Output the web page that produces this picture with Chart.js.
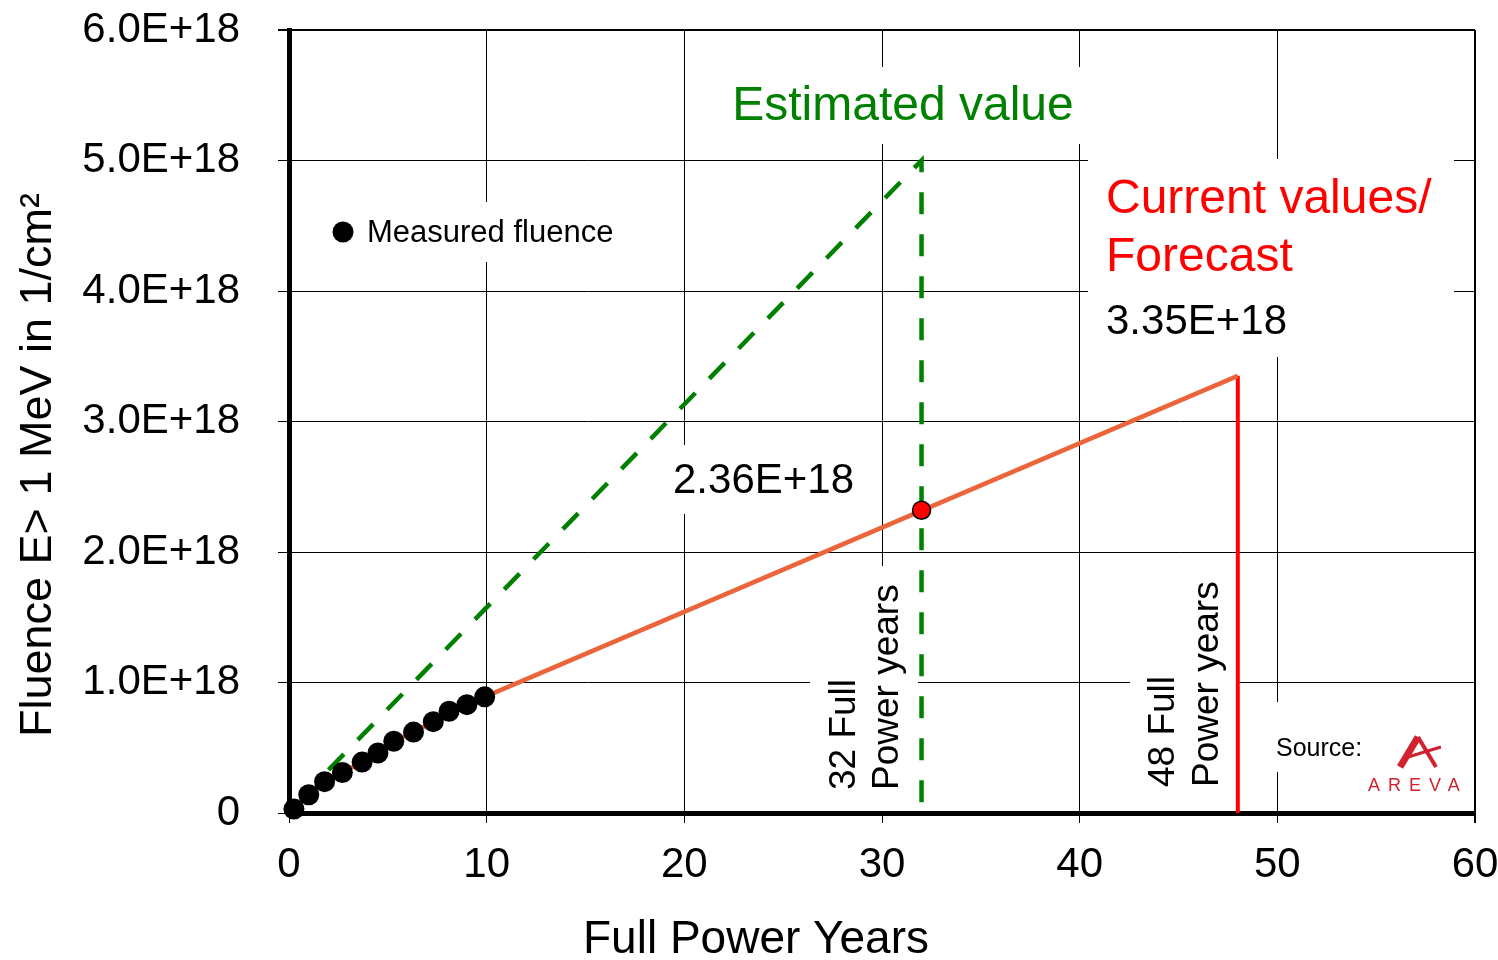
<!DOCTYPE html>
<html>
<head>
<meta charset="utf-8">
<title>Fluence</title>
<script src="https://cdn.jsdelivr.net/npm/chart.js@4.4.1/dist/chart.umd.min.js"></script>
<style>
  body { margin: 0; background: #fff; }
  #wrap { width: 1498px; height: 960px; }
</style>
</head>
<body>
<div id="wrap"><canvas id="fluenceChart"></canvas></div>
<script>
'use strict';

var xTickLabels = ['0', '10', '20', '30', '40', '50', '60'];
var yTickLabels = ['0', '1.0E+18', '2.0E+18', '3.0E+18', '4.0E+18', '5.0E+18', '6.0E+18'];

// measured fluence points (full power years / fluence)
var measuredYears = [0.25, 1.0, 1.8, 2.7, 3.7, 4.5, 5.3, 6.3, 7.3, 8.1, 9.0, 9.9];
var measuredFluence = [0.03e18, 0.14e18, 0.24e18, 0.31e18, 0.39e18, 0.46e18, 0.55e18, 0.62e18, 0.70e18, 0.78e18, 0.83e18, 0.89e18];

// forecast end point (orange line continues the measured values)
var forecastYears = [48];
var forecastFluence = [3.35e18];

// red limit line at 48 years
var limitYears = [48, 48];
var limitFluence = [3.35e18, 0];

// estimated value (green dashed)
var estimateYears = [2.0, 32, 32];
var estimateFluence = [0.33e18, 5.0e18, 0];

// current value at 32 years
var currentYears = [32];
var currentFluence = [2.32e18];

var FONT = "'Liberation Sans', Arial, sans-serif";

function toPoints(xs, ys) {
    var out = [];
    for (var i = 0; i < xs.length; i++) {
        out.push({x: xs[i], y: ys[i]});
    }
    return out;
}

function rotText(ctx, str, x, y, align) {
    ctx.save();
    ctx.translate(x, y);
    ctx.rotate(-Math.PI / 2);
    ctx.textAlign = align;
    ctx.textBaseline = 'middle';
    ctx.fillText(str, 0, 0);
    ctx.restore();
}

var notes = {
    id: 'notes',
    beforeDatasetsDraw: function(chart) {
        var ctx = chart.ctx;
        ctx.save();
        ctx.fillStyle = '#fff';
        // text backgrounds cut the grid like in the slide
        ctx.fillRect(720, 67, 365, 77);
        ctx.fillRect(1088, 159, 366, 198);
        ctx.fillRect(667, 445, 198, 69);
        ctx.fillRect(325, 202, 300, 60);
        ctx.fillRect(810, 566, 108, 245);
        ctx.fillRect(1130, 560, 107, 251);
        ctx.fillRect(1262, 702, 208, 70);
        ctx.restore();
    },
    afterDraw: function(chart) {
        var ctx = chart.ctx;
        ctx.save();
        ctx.textBaseline = 'middle';

        ctx.fillStyle = '#008000';
        ctx.font = '48px ' + FONT;
        ctx.textAlign = 'center';
        ctx.fillText('Estimated value', 903, 107);

        ctx.fillStyle = '#ff0000';
        ctx.textAlign = 'left';
        ctx.fillText('Current values/', 1106, 200);
        ctx.fillText('Forecast', 1106, 258);

        ctx.fillStyle = '#000';
        ctx.font = '42px ' + FONT;
        ctx.fillText('3.35E+18', 1106, 322);
        ctx.fillText('2.36E+18', 673, 481);

        // legend entry
        ctx.beginPath();
        ctx.arc(343, 232, 10.5, 0, Math.PI * 2);
        ctx.fill();
        ctx.font = '31px ' + FONT;
        ctx.fillText('Measured fluence', 367, 233);

        ctx.font = '37px ' + FONT;
        rotText(ctx, '32 Full', 845, 790, 'left');
        rotText(ctx, 'Power years', 888, 790, 'left');
        rotText(ctx, '48 Full', 1164, 787, 'left');
        rotText(ctx, 'Power years', 1208, 787, 'left');

        // axis titles
        ctx.font = '46px ' + FONT;
        ctx.textAlign = 'center';
        ctx.fillText('Full Power Years', 756, 940);
        ctx.font = '45px ' + FONT;
        rotText(ctx, 'Fluence E> 1 MeV in 1/cm\u00b2', 39, 465, 'center');

        // source + logo
        ctx.font = '25px ' + FONT;
        ctx.textAlign = 'left';
        ctx.fillText('Source:', 1276, 749);

        var red = '#d2202f';
        ctx.strokeStyle = red;
        ctx.fillStyle = red;
        ctx.lineCap = 'butt';
        ctx.beginPath();
        ctx.lineWidth = 7;
        ctx.moveTo(1400, 767);
        ctx.lineTo(1418, 737);
        ctx.stroke();
        ctx.beginPath();
        ctx.lineWidth = 4;
        ctx.moveTo(1418, 737);
        ctx.lineTo(1436, 767);
        ctx.stroke();
        ctx.beginPath();
        ctx.lineWidth = 3;
        ctx.moveTo(1405, 758);
        ctx.quadraticCurveTo(1424, 752, 1441, 747);
        ctx.stroke();

        ctx.font = '18px ' + FONT;
        ctx.letterSpacing = '8px';
        ctx.textAlign = 'left';
        ctx.fillText('AREVA', 1368, 786);
        ctx.restore();
    }
};

var ctx = document.getElementById('fluenceChart').getContext('2d');
var fluenceChart = new Chart(ctx, {
    type: 'scatter',
    data: {
        datasets: [
            {
                label: 'Measured fluence',
                data: toPoints(measuredYears, measuredFluence),
                backgroundColor: '#000',
                borderWidth: 0,
                pointRadius: 10.5,
                showLine: false,
                clip: false
            },
            {
                label: 'Current value',
                data: toPoints(currentYears, currentFluence),
                backgroundColor: '#ff0000',
                borderColor: '#000',
                borderWidth: 1.5,
                pointRadius: 9,
                showLine: false,
                clip: false
            },
            {
                label: 'Forecast',
                data: toPoints(measuredYears.concat(forecastYears), measuredFluence.concat(forecastFluence)),
                borderColor: '#eb643a',
                borderWidth: 4.5,
                pointRadius: 0,
                showLine: true,
                clip: false
            },
            {
                label: '48 years',
                data: toPoints(limitYears, limitFluence),
                borderColor: '#ff0000',
                borderWidth: 4,
                pointRadius: 0,
                showLine: true,
                clip: false
            },
            {
                label: 'Estimated value',
                data: toPoints(estimateYears, estimateFluence),
                borderColor: '#008000',
                borderWidth: 4.5,
                borderDash: [22, 20],
                pointRadius: 0,
                showLine: true,
                clip: false
            }
        ]
    },
    options: {
        responsive: true,
        maintainAspectRatio: false,
        animation: false,
        layout: { padding: { top: 30, right: 23, left: 0, bottom: 0 } },
        plugins: {
            legend: { display: false },
            tooltip: { enabled: false }
        },
        scales: {
            x: {
                type: 'linear',
                min: 0,
                max: 60,
                afterFit: function(scale) {
                    scale.height = 147;
                    scale.paddingLeft = 0;
                    scale.paddingRight = 0;
                },
                ticks: {
                    stepSize: 10,
                    padding: 17,
                    color: '#000',
                    font: { family: FONT, size: 42 },
                    maxRotation: 0,
                    callback: function(value, index) { return xTickLabels[index]; }
                },
                grid: {
                    color: '#000',
                    lineWidth: function(c) { return c.index === xTickLabels.length - 1 ? 2 : 1; },
                    tickLength: 10
                },
                border: { display: true, color: '#000', width: 5 }
            },
            y: {
                type: 'linear',
                min: 0,
                max: 6e18,
                afterFit: function(scale) {
                    scale.width = 289;
                    scale.paddingTop = 0;
                    scale.paddingBottom = 0;
                },
                ticks: {
                    stepSize: 1e18,
                    padding: 38,
                    color: '#000',
                    font: { family: FONT, size: 42 },
                    callback: function(value, index) { return yTickLabels[index]; }
                },
                grid: {
                    color: '#000',
                    lineWidth: function(c) { return c.index === yTickLabels.length - 1 ? 2 : 1; },
                    tickLength: 11
                },
                border: { display: true, color: '#000', width: 5 }
            }
        }
    },
    plugins: [notes]
});
</script>
</body>
</html>
